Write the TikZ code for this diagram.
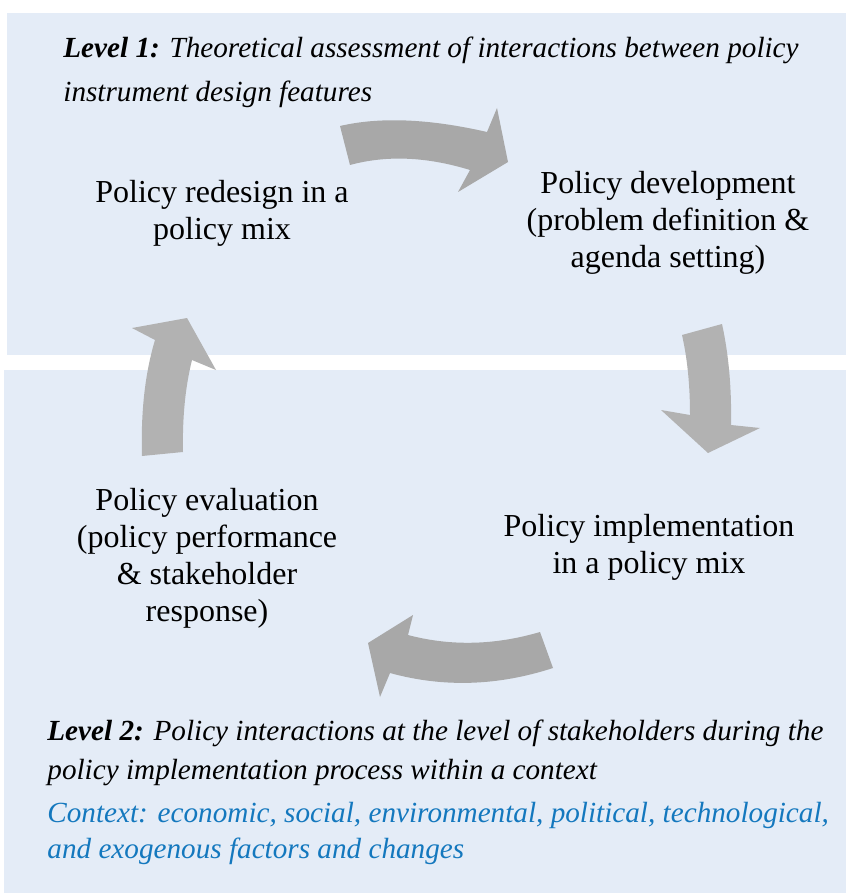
\documentclass[tikz,border=0pt]{standalone}
\usepackage{fontspec}
\setmainfont{Liberation Serif}
\definecolor{panelblue}{RGB}{228,236,247}
\definecolor{arrowgray}{RGB}{168,168,168}
\definecolor{arrowlight}{RGB}{178,178,178}
\definecolor{ctxblue}{RGB}{20,120,190}
\begin{document}
\begin{tikzpicture}[x=0.5pt,y=-0.5pt,
    stage/.style={align=center,inner sep=0pt,font=\fontsize{16}{18.5}\selectfont},
    level/.style={anchor=west,align=left,inner sep=0pt,font=\fontsize{14.6}{22}\selectfont\itshape},
    blockarrow/.style={fill=arrowgray,draw=none}]
  \fill[white] (0,0) rectangle (846,893);
  \useasboundingbox (0,0) rectangle (846,893);
  \fill[panelblue] (7,13) rectangle (846,355);
  \fill[panelblue] (4,370) rectangle (846,893);

  \node[level] (levelone) at (63,72) {\textbf{Level 1:} Theoretical assessment of interactions between policy\\instrument design features};
  \node[level,font=\fontsize{14.6}{19.5}\selectfont\itshape] (leveltwo) at (47,753) {\textbf{Level 2:} Policy interactions at the level of stakeholders during the\\policy implementation process within a context};
  \node[level,font=\fontsize{14.6}{18}\selectfont\itshape,text=ctxblue] (context) at (47,833) {Context: economic, social, environmental, political, technological,\\and exogenous factors and changes};

  \node[stage] (redesign) at (222,213) {Policy redesign in a\\policy mix};
  \node[stage] (develop) at (668,223) {Policy development\\(problem definition \&\\agenda setting)};
  \node[stage] (implement) at (649,547) {Policy implementation\\in a policy mix};
  \node[stage] (evaluate) at (207,558) {Policy evaluation\\(policy performance\\\& stakeholder\\response)};

  \fill[blockarrow] (340,126) .. controls (380,116.7) and (429,118.7) .. (487,132) -- (497,108) -- (508,162)
    -- (458,192) -- (470,170) .. controls (426.7,156.7) and (386.7,155) .. (350,165) -- cycle;
  \fill[blockarrow,fill=arrowlight] (682,335) -- (722,324) .. controls (728.7,354.7) and (731.7,388.3) .. (731,425)
    -- (760,428) -- (708,453) -- (661,410) -- (690,415) .. controls (690,385) and (687.3,358.3) .. (682,335);
  \fill[blockarrow] (540,632) .. controls (494.7,645.3) and (450.7,646.3) .. (408,635) -- (413,615) -- (368,643)
    -- (380,697) -- (390,673) .. controls (443.3,687.7) and (497.7,686) .. (553,668) -- cycle;
  \fill[blockarrow,fill=arrowlight] (142,456) .. controls (140.7,412) and (145,373.3) .. (155,340) -- (132,328)
    -- (187,318) -- (216,370) -- (192,360) .. controls (185.3,386.7) and (182.3,417.3) .. (183,452) -- cycle;
\end{tikzpicture}
\end{document}
